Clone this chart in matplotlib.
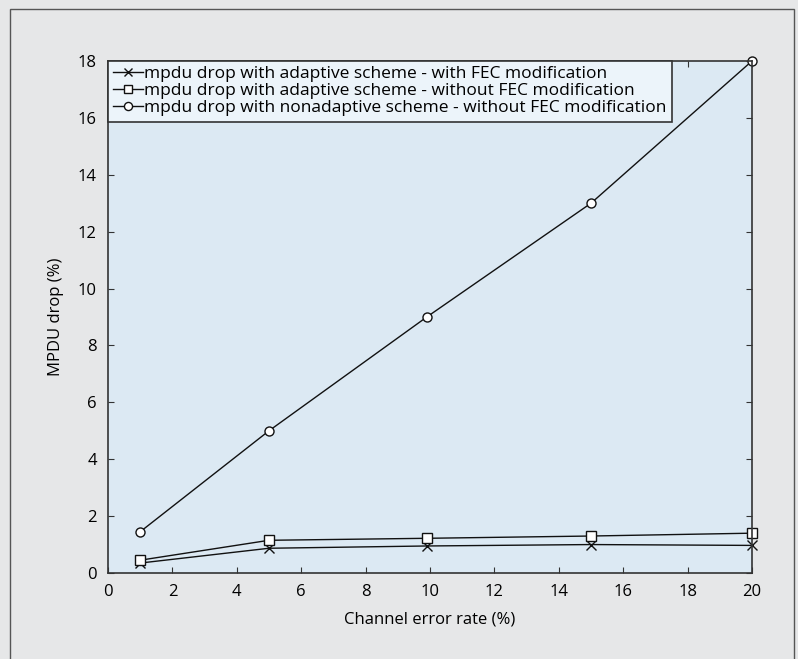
import matplotlib
matplotlib.use("Agg")
import matplotlib.pyplot as plt
from matplotlib.patches import Rectangle

# Data
error_rate = [1, 5, 9.9, 15, 20]
drop_adaptive_fec = [0.35, 0.87, 0.95, 1.0, 0.97]
drop_adaptive_nofec = [0.45, 1.15, 1.22, 1.3, 1.4]
drop_nonadaptive = [1.45, 5.0, 9.0, 13.0, 18.0]
labels = [
    "mpdu drop with adaptive scheme - with FEC modification",
    "mpdu drop with adaptive scheme - without FEC modification",
    "mpdu drop with nonadaptive scheme - without FEC modification",
]
xticks = list(range(0, 21, 2))
yticks = list(range(0, 19, 2))

plt.rcParams["font.family"] = ["Open Sans", "DejaVu Sans"]

fig = plt.figure(figsize=(7.98, 6.59), dpi=100, facecolor="#e6e7e8")
ax = fig.add_axes([108 / 798, 86 / 659, 644 / 798, 512 / 659])
ax.set_facecolor("#dce9f3")

# outer frame (bottom edge runs off the picture)
fig.patches.append(Rectangle((10 / 798, -2 / 659), 784 / 798, 652 / 659,
                             transform=fig.transFigure, fill=False,
                             edgecolor="#555555", linewidth=1.0))

ax.plot(error_rate, drop_adaptive_fec, color="#111111", lw=1, marker="x",
        ms=6.5, mew=1, label=labels[0], clip_on=False)
ax.plot(error_rate, drop_adaptive_nofec, color="#111111", lw=1, marker="s",
        ms=6.5, mfc="white", mew=1, label=labels[1], clip_on=False)
ax.plot(error_rate, drop_nonadaptive, color="#111111", lw=1, marker="o",
        ms=6.5, mfc="white", mew=1, label=labels[2], clip_on=False)

ax.set_xlim(0, 20)
ax.set_ylim(0, 18)
ax.set_xticks(xticks)
ax.set_yticks(yticks)
ax.tick_params(direction="in", top=True, right=True, length=4.3,
               labelsize=12, pad=8, color="#333333")
for s in ax.spines.values():
    s.set_color("#333333")
    s.set_linewidth(1.2)

ax.set_xlabel("Channel error rate (%)", fontsize=12, labelpad=8)
ax.set_ylabel("MPDU drop (%)", fontsize=12, labelpad=10)

leg = ax.legend(loc="upper left", borderaxespad=0, fontsize=12.5,
                handlelength=1.7, handletextpad=0.1, labelspacing=0.05,
                borderpad=0.3, fancybox=False, framealpha=1, markerscale=0.9)
leg.get_frame().set_facecolor("#ecf4fa")
leg.get_frame().set_edgecolor("#333333")
leg.get_frame().set_linewidth(1.2)

fig.savefig("out.png", dpi=100, facecolor=fig.get_facecolor())
